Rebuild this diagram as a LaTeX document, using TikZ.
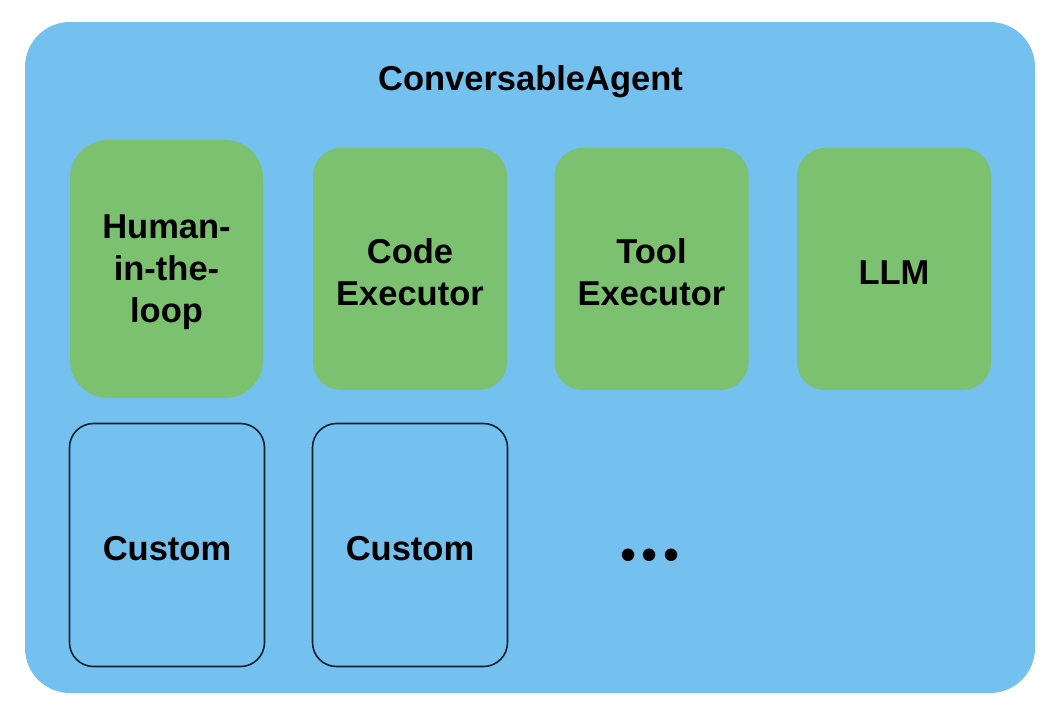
\documentclass[tikz,border=0pt]{standalone}
\usepackage{fontspec}
\setmainfont{Liberation Sans}
\definecolor{bgblue}{RGB}{116,192,238}
\definecolor{boxgreen}{RGB}{124,193,112}
\definecolor{navy}{RGB}{16,32,48}
\tikzset{
  lbl/.style={font=\fontsize{34.5}{42}\selectfont\bfseries, align=center, text=black},
  greenbox/.style={fill=boxgreen, draw=none, rounded corners=28pt, minimum width=194pt, minimum height=242pt, inner sep=0pt},
  custombox/.style={fill=bgblue, draw=navy, line width=1.6pt, rounded corners=24pt, minimum width=195pt, minimum height=243pt, inner sep=0pt},
  txt/.style={label={[lbl, yshift=-3.5pt]center:#1}}
}
\begin{document}
\begin{tikzpicture}[x=1pt,y=-1pt]
\useasboundingbox (0,0) rectangle (1064,726);
\fill[white] (0,0) rectangle (1064,726);
\node[fill=bgblue, rounded corners=45pt, minimum width=1010pt, minimum height=671pt, inner sep=0pt] (outer) at (530,357.5) {};
\node[lbl, anchor=base] (title) at (530.5,90) {ConversableAgent};
\node[greenbox, rounded corners=38pt, minimum width=193pt, minimum height=258pt, txt={Human-\\in-the-\\loop}] (human) at (166.5,269) {};
\node[greenbox, txt={Code\\Executor}] (code) at (410,269) {};
\node[greenbox, txt={Tool\\Executor}] (tool) at (651.5,269) {};
\node[greenbox, txt={LLM}] (llm) at (894,269) {};
\node[custombox, txt={Custom}] (c1) at (167,545) {};
\node[custombox, txt={Custom}] (c2) at (410,545) {};
\node[font=\fontsize{46}{48}\selectfont, anchor=base, inner sep=0pt] (dots) at (650,570) {•\hspace{5pt}•\hspace{5pt}•};
\end{tikzpicture}
\end{document}
